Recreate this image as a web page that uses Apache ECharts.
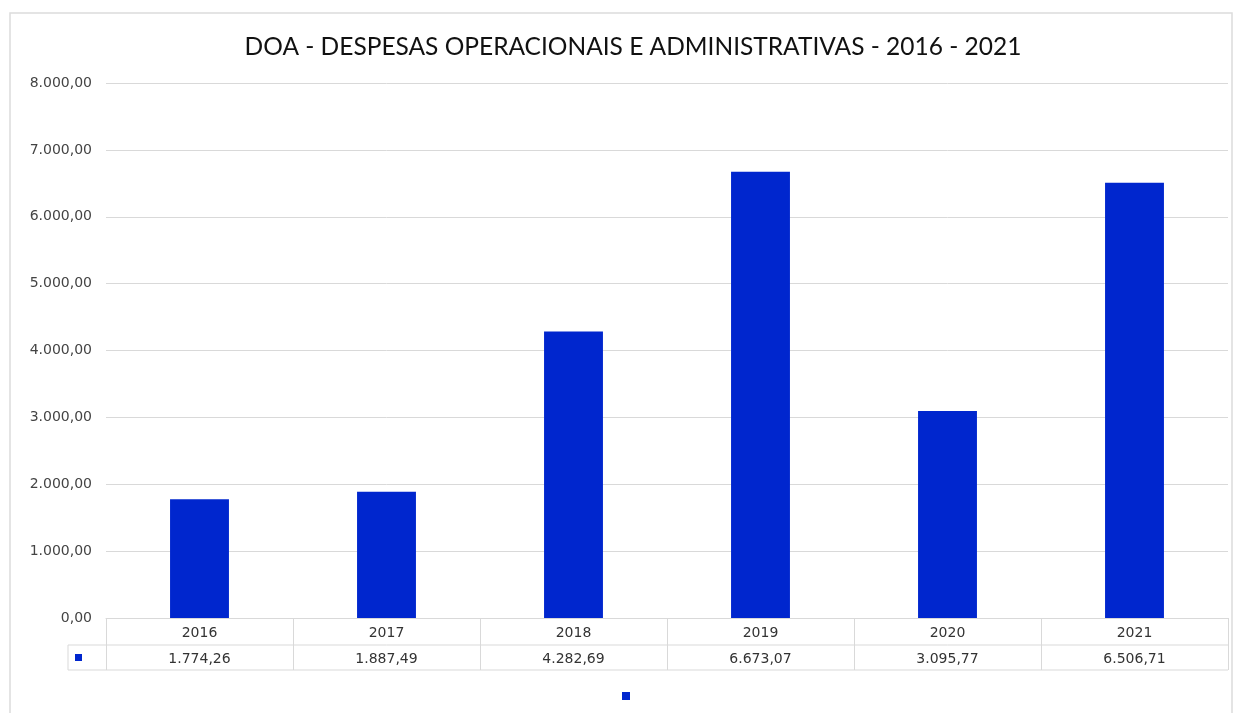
<!DOCTYPE html>
<html><head><meta charset="utf-8">
<script src="https://cdn.jsdelivr.net/npm/echarts@6/dist/echarts.min.js"></script>
<style>html,body{margin:0;padding:0;background:#fff}#c{width:1235px;height:713px}</style>
</head><body><div id="c"></div>
<script>
const titleText = 'DOA - DESPESAS OPERACIONAIS E ADMINISTRATIVAS - 2016 - 2021';
const categories = ['2016','2017','2018','2019','2020','2021'];
const values = [1774.26, 1887.49, 4282.69, 6673.07, 3095.77, 6506.71];
const yTicks = [0,1000,2000,3000,4000,5000,6000,7000,8000];

const BLUE = '#0026CE';
const GRIDC = '#d9d9d9';
const L = 106, R = 1228, T = 83, B = 618;

function fmt(v){
  const s = Math.abs(v).toFixed(2).split('.');
  const ip = s[0].replace(/\B(?=(\d{3})+(?!\d))/g,'.');
  return ip + ',' + s[1];
}

const chart = echarts.init(document.getElementById('c'), null, {renderer:'canvas'});
chart.setOption({
  animation:false,
  backgroundColor:'#fff',
  title:{text:titleText,left:628,top:30,textAlign:'center',
    textStyle:{fontFamily:'Lato',fontSize:24.5,fontWeight:'normal',color:'#111'}},
  legend:{data:['DOA'],left:617,top:687,itemWidth:8,itemHeight:8,icon:'rect',formatter:()=>'',itemGap:0},
  grid:{left:L,right:1235-R,top:T,bottom:713-B,containLabel:false},
  xAxis:{type:'category',data:categories,
    axisLine:{lineStyle:{color:GRIDC}},
    axisTick:{show:true,length:52,interval:0,lineStyle:{color:GRIDC}},
    axisLabel:{interval:0,margin:2,
      formatter:(v,i)=>'{y|'+v+'}\n{v|'+fmt(values[i])+'}',
      rich:{
        y:{fontFamily:'DejaVu Sans',fontSize:14,color:'#333',lineHeight:27},
        v:{fontFamily:'DejaVu Sans',fontSize:14,color:'#333',lineHeight:25}
      }}},
  yAxis:{type:'value',min:yTicks[0],max:yTicks[yTicks.length-1],interval:1000,
    axisLine:{show:false},axisTick:{show:false},
    splitLine:{lineStyle:{color:GRIDC}},
    axisLabel:{formatter:fmt,margin:14,fontFamily:'DejaVu Sans',fontSize:14,color:'#444'}},
  series:[{name:'DOA',type:'bar',data:values,barWidth:'31.5%',itemStyle:{color:BLUE}}],
  graphic:[
    {type:'rect',shape:{x:10,y:13,width:1222,height:720},style:{fill:'none',stroke:'#dcdcdc',lineWidth:1.5},silent:true},
    {type:'line',shape:{x1:L,y1:645,x2:R,y2:645},style:{stroke:GRIDC,lineWidth:1}},
    {type:'line',shape:{x1:68,y1:670,x2:R,y2:670},style:{stroke:GRIDC,lineWidth:1}},
    {type:'line',shape:{x1:68,y1:645,x2:L,y2:645},style:{stroke:GRIDC,lineWidth:1}},
    {type:'line',shape:{x1:68,y1:645,x2:68,y2:670},style:{stroke:GRIDC,lineWidth:1}},
    {type:'rect',shape:{x:75,y:654,width:7,height:7},style:{fill:BLUE}}
  ]
});
</script></body></html>
